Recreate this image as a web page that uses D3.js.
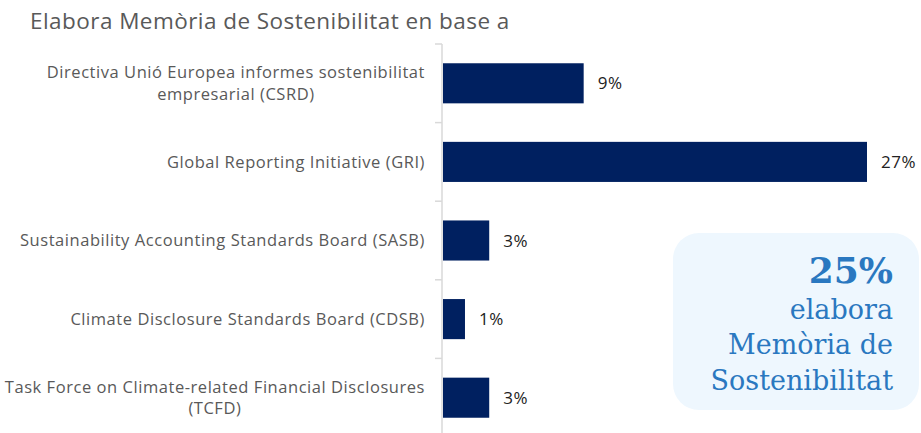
<!DOCTYPE html>
<meta charset="utf-8">
<head>
<style>
  body { margin: 0; background: #fff; }
  svg { display: block; }
</style>
</head>
<title>Elabora Memòria de Sostenibilitat</title>
<script src="https://d3js.org/d3.v7.min.js"></script>
<div id="chart"></div>
<script>
var categories = [
  ["Directiva Unió Europea informes sostenibilitat", "empresarial (CSRD)"],
  ["Global Reporting Initiative (GRI)"],
  ["Sustainability Accounting Standards Board (SASB)"],
  ["Climate Disclosure Standards Board (CDSB)"],
  ["Task Force on Climate-related Financial Disclosures", "(TCFD)"]
];
var values = [9, 27, 3, 1.46, 3];
var valueLabels = ["9%", "27%", "3%", "1%", "3%"];
var calloutLines = ["25%", "elabora", "Memòria de", "Sostenibilitat"];

var W = 921, H = 433;
var x0 = 442;

var svg = d3.select("#chart")
  .append("svg")
    .attr("width", W)
    .attr("height", H);

// title
svg.append("text")
  .attr("x", 30)
  .attr("y", 29)
  .style("font-family", "Open Sans")
  .style("font-size", "22.5px")
  .style("letter-spacing", "0.45px")
  .style("fill", "#595959")
  .text("Elabora Memòria de Sostenibilitat en base a");

var y = d3.scaleBand()
  .domain(d3.range(categories.length))
  .range([44, 437])
  .paddingInner(0.49)
  .paddingOuter(0.245);

var x = d3.scaleLinear()
  .domain([0, 27])
  .range([x0, 867]);

// axis line + ticks at band boundaries
svg.append("line")
  .attr("x1", x0).attr("x2", x0)
  .attr("y1", 44).attr("y2", H)
  .style("stroke", "#d9d9d9")
  .style("stroke-width", 1.5);

var step = y.step();
var bounds = d3.range(categories.length).map(function(i) { return 44 + i * step; });
svg.selectAll("line.tick")
  .data(bounds)
  .enter()
  .append("line")
  .attr("class", "tick")
  .attr("x1", x0 - 7).attr("x2", x0)
  .attr("y1", function(d) { return d; })
  .attr("y2", function(d) { return d; })
  .style("stroke", "#d9d9d9")
  .style("stroke-width", 1.5);

// bars
svg.selectAll("rect.bar")
  .data(values)
  .enter()
  .append("rect")
  .attr("class", "bar")
  .attr("x", x(0) + 1)
  .attr("y", function(d, i) { return y(i); })
  .attr("width", function(d) { return x(d) - x(0) - 1; })
  .attr("height", y.bandwidth())
  .attr("fill", "#002060");

// value labels
svg.selectAll("text.val")
  .data(values)
  .enter()
  .append("text")
  .attr("class", "val")
  .attr("x", function(d) { return x(d) + 14; })
  .attr("y", function(d, i) { return y(i) + y.bandwidth() / 2; })
  .attr("dy", "0.36em")
  .style("font-family", "Open Sans")
  .style("font-size", "17px")
  .style("letter-spacing", "0.5px")
  .style("fill", "#222")
  .text(function(d, i) { return valueLabels[i]; });

// category labels, right-aligned block with lines centred
var lab = svg.selectAll("text.cat")
  .data(categories)
  .enter()
  .append("text")
  .attr("class", "cat")
  .attr("text-anchor", "middle")
  .style("font-family", "Open Sans")
  .style("font-size", "16.5px")
  .style("letter-spacing", "0.55px")
  .style("fill", "#595959");

lab.each(function(lines, i) {
  var t = d3.select(this);
  var cy = y(i) + y.bandwidth() / 2;
  var lh = 21.5;
  var start = cy - (lines.length - 1) * lh / 2;
  lines.forEach(function(l, j) {
    t.append("tspan")
      .attr("x", 0)
      .attr("y", start + j * lh)
      .attr("dy", "0.36em")
      .text(l);
  });
  var maxW = 0;
  t.selectAll("tspan").each(function() {
    maxW = Math.max(maxW, this.getComputedTextLength());
  });
  t.selectAll("tspan").attr("x", 425 - maxW / 2);
});

// callout box
svg.append("rect")
  .attr("x", 673).attr("y", 233)
  .attr("width", 246).attr("height", 177)
  .attr("rx", 26).attr("ry", 26)
  .attr("fill", "#eef7fe");

svg.selectAll("text.callout")
  .data(calloutLines)
  .enter()
  .append("text")
  .attr("class", "callout")
  .attr("x", 893)
  .attr("y", function(d, i) { return 283 + i * 35.5; })
  .attr("text-anchor", "end")
  .style("font-family", "DejaVu Serif")
  .style("font-weight", function(d, i) { return i == 0 ? "bold" : "normal"; })
  .style("font-size", function(d, i) { return i == 0 ? "36px" : "27px"; })
  .style("fill", "#2a78c0")
  .text(function(d) { return d; });
</script>
